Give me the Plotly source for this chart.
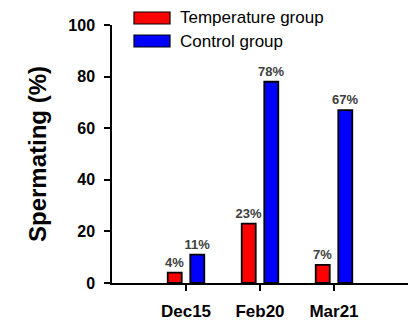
import plotly.graph_objects as go

categories = ["Dec15", "Feb20", "Mar21"]
temperature_values = [4, 23, 7]
control_values = [11, 78, 67]
series_names = ["Temperature group", "Control group"]
y_ticks = [0, 20, 40, 60, 80, 100]

red = "#ff0000"
blue = "#0000ff"
label_font = dict(family="Liberation Sans, Arial", size=13, color="#404040", weight="bold")

fig = go.Figure()
for name, vals, col in [(series_names[0], temperature_values, red),
                        (series_names[1], control_values, blue)]:
    fig.add_trace(go.Bar(
        x=categories, y=vals, name=name,
        marker=dict(color=col, line=dict(color="black", width=1.8)),
        text=[f"{v}%" for v in vals], textposition="outside",
        textfont=label_font, cliponaxis=False, showlegend=False,
        constraintext="none", hoverinfo="skip",
    ))

fig.update_layout(
    width=416, height=321,
    margin=dict(l=112, r=8, t=25, b=38, autoexpand=False),
    paper_bgcolor="white", plot_bgcolor="white",
    barmode="group", bargap=0.39, bargroupgap=0.38,
    font=dict(family="Liberation Sans, Arial", color="black"),
)
fig.update_xaxes(
    range=[-1, 3], showline=True, linecolor="black", linewidth=1.5,
    ticks="outside", ticklen=6, tickwidth=1.5, tickcolor="black",
    tickfont=dict(size=17, weight="bold", color="black"), ticklabelstandoff=6,
    showgrid=False, zeroline=False, automargin=False,
)
fig.update_yaxes(
    range=[0, 100], tickvals=y_ticks, showline=True, linecolor="black", linewidth=1.5,
    ticks="outside", ticklen=6, tickwidth=1.5, tickcolor="black",
    tickfont=dict(size=16, weight="bold", color="black"), ticklabelstandoff=6,
    showgrid=False, zeroline=False, automargin=False,
    title=dict(text="Spermating (%)", font=dict(size=24, weight="bold", color="black"), standoff=15),
)

# manual legend (wide rectangular swatches as in reference)
legend_y = [18, 41]
for i, (name, col) in enumerate(zip(series_names, [red, blue])):
    yc = legend_y[i]
    fig.add_shape(type="rect", xref="paper", yref="paper",
                  x0=(134 - 112) / 296, x1=(170 - 112) / 296,
                  y0=(283 - (yc + 6)) / 258, y1=(283 - (yc - 6)) / 258,
                  fillcolor=col, line=dict(color="black", width=1.2))
    fig.add_annotation(xref="paper", yref="paper",
                       x=(178 - 112) / 296, y=(283 - yc) / 258,
                       text=name, showarrow=False, xanchor="left", yanchor="middle",
                       font=dict(size=17, color="black"))

fig.write_html("out.html", config={"displayModeBar": False},
               post_script="document.body.style.margin='0';")
